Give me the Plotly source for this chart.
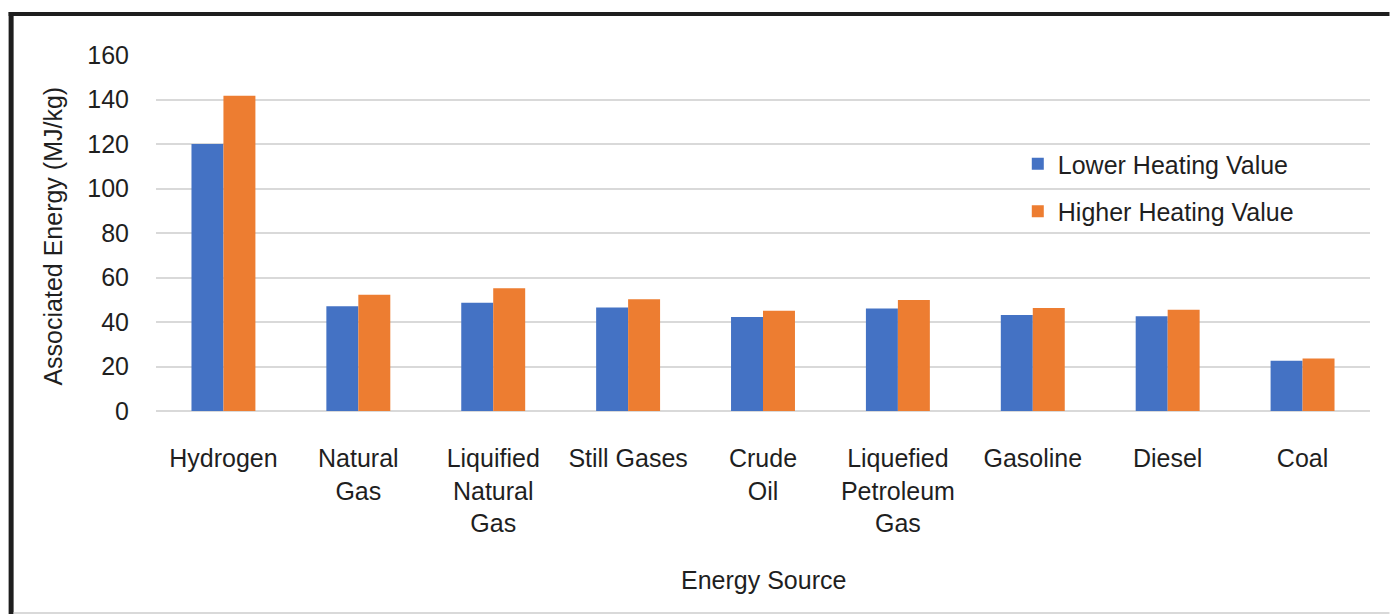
import plotly.graph_objects as go

# Energy content per fuel (MJ/kg)
sources = [
    "Hydrogen",
    "Natural<br>Gas",
    "Liquified<br>Natural<br>Gas",
    "Still Gases",
    "Crude<br>Oil",
    "Liquefied<br>Petroleum<br>Gas",
    "Gasoline",
    "Diesel",
    "Coal",
]
lower_heating_value = [120.0, 47.1, 48.6, 46.5, 42.3, 46.1, 43.1, 42.6, 22.6]
higher_heating_value = [141.7, 52.2, 55.2, 50.2, 45.1, 49.9, 46.3, 45.5, 23.6]
y_ticks = [0, 20, 40, 60, 80, 100, 120, 140, 160]

FONT = "Liberation Sans, Arial, sans-serif"
TEXT = "#1f1f1f"
FS = 25

W, H = 1390, 614
L, R, T, B = 155.5, 19.5, 55, 203
pw, ph = W - L - R, H - T - B


def px_x(x):
    return (x - L) / pw


def px_y(y):
    return (H - B - y) / ph


fig = go.Figure()
fig.add_bar(x=sources, y=lower_heating_value, name="Lower Heating Value",
            legendgroup="lhv",
            marker=dict(color="#4472C4", line=dict(width=0)))
fig.add_bar(x=sources, y=higher_heating_value, name="Higher Heating Value",
            legendgroup="hhv",
            marker=dict(color="#ED7D31", line=dict(width=0)))

fig.update_layout(
    width=W, height=H,
    margin=dict(l=L, r=R, t=T, b=B, autoexpand=False),
    paper_bgcolor="white", plot_bgcolor="white",
    barmode="group", bargap=0.526, bargroupgap=0,
    font=dict(family=FONT, size=FS, color=TEXT),
    showlegend=True,
    legend=dict(x=px_x(1018), y=px_y(141), xanchor="left", yanchor="top",
                bgcolor="rgba(0,0,0,0)", tracegroupgap=12,
                traceorder="grouped", itemsizing="constant",
                font=dict(family=FONT, size=FS, color=TEXT)),
    xaxis=dict(showgrid=False, showline=False, ticks="", zeroline=False,
               ticklabelstandoff=30, tickfont=dict(size=FS)),
    yaxis=dict(range=[0, 160], tickvals=y_ticks, showgrid=True,
               gridcolor="#d9d9d9", gridwidth=2, zeroline=True,
               zerolinecolor="#d9d9d9", zerolinewidth=2, showline=False,
               ticks="", ticklabelstandoff=26, tickfont=dict(size=FS)),
    annotations=[
        dict(text="Energy Source", xref="paper", yref="paper",
             x=px_x(764), y=px_y(580), xanchor="center", yanchor="middle",
             showarrow=False, font=dict(size=FS)),
        dict(text="Associated Energy (MJ/kg)", xref="paper", yref="paper",
             x=px_x(52), y=px_y(236), xanchor="center", yanchor="middle",
             textangle=-90, showarrow=False, font=dict(size=FS)),
    ],
    shapes=[
        # frame around the chart
        dict(type="line", xref="paper", yref="paper",
             x0=px_x(8), x1=px_x(W), y0=px_y(14), y1=px_y(14),
             line=dict(color="#1e1e1e", width=4)),
        dict(type="line", xref="paper", yref="paper",
             x0=px_x(10.5), x1=px_x(10.5), y0=px_y(12), y1=px_y(H),
             line=dict(color="#1e1e1e", width=5)),
        dict(type="line", xref="paper", yref="paper",
             x0=px_x(13), x1=px_x(W), y0=px_y(613), y1=px_y(613),
             line=dict(color="#d9d9d9", width=2)),
    ],
)

fig.write_html("out.html")
